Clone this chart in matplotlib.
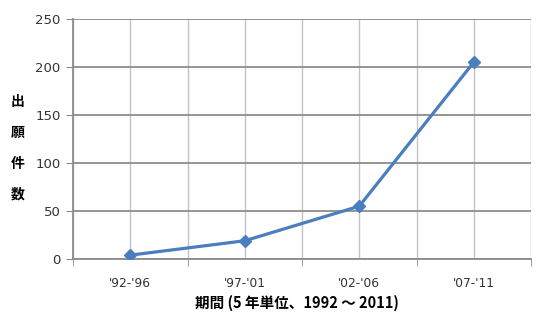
import matplotlib
matplotlib.use("Agg")
import numpy as np
import matplotlib.pyplot as plt

periods = ["'92-'96", "'97-'01", "'02-'06", "'07-'11"]
counts = [4, 19, 55, 205]
yticks = [0, 50, 100, 150, 200, 250]
ylabel_chars = ["出", "願", "件", "数"]
xlabel = "期間 (5 年単位、1992 ～ 2011)"

plt.rcParams['font.family'] = ['DejaVu Sans', 'Noto Sans CJK JP']

fig = plt.figure(figsize=(5.41, 3.31), dpi=100)
ax = fig.add_axes([73/541, 72/331, 458/541, 240/331])

x = np.arange(len(periods))
ax.plot(x, counts, color='#4A7EBF', lw=2.3, marker='D', ms=6,
        markeredgecolor='#4A7EBF', zorder=3)

ax.set_xlim(-0.5, len(periods) - 0.5)
ax.set_ylim(0, 250)
ax.set_yticks(yticks)
ax.set_xticks(x)
ax.set_xticklabels(periods)
ax.set_xticks(np.arange(-0.5, len(periods), 1.0), minor=True)

ax.grid(axis='y', color='#8c8c8c', lw=1.3)
ax.grid(axis='x', which='both', color='#c4c4c4', lw=1.0)
ax.set_axisbelow(True)

for s in ['top', 'right']:
    ax.spines[s].set_visible(False)
for s in ['left', 'bottom']:
    ax.spines[s].set_color('#8c8c8c')
    ax.spines[s].set_linewidth(1.3)

ax.tick_params(axis='y', length=5, color='#8c8c8c', labelsize=9.5,
               labelcolor='#333333', pad=4)
ax.tick_params(axis='x', which='major', length=0, labelsize=8.8,
               labelcolor='#333333', pad=13)
ax.tick_params(axis='x', which='minor', length=5, color='#8c8c8c')

for i, ch in enumerate(ylabel_chars):
    fig.text(18/541, 1 - (102 + i * 31)/331, ch, ha='center', va='center',
             fontsize=10, fontweight='bold', family=['Noto Sans CJK JP'])

fig.text(297/541, 1 - 303/331, xlabel, ha='center', va='center',
         fontsize=10.5, fontweight='bold', family=['Noto Sans CJK JP', 'DejaVu Sans'])

fig.savefig("out.png", dpi=100)
